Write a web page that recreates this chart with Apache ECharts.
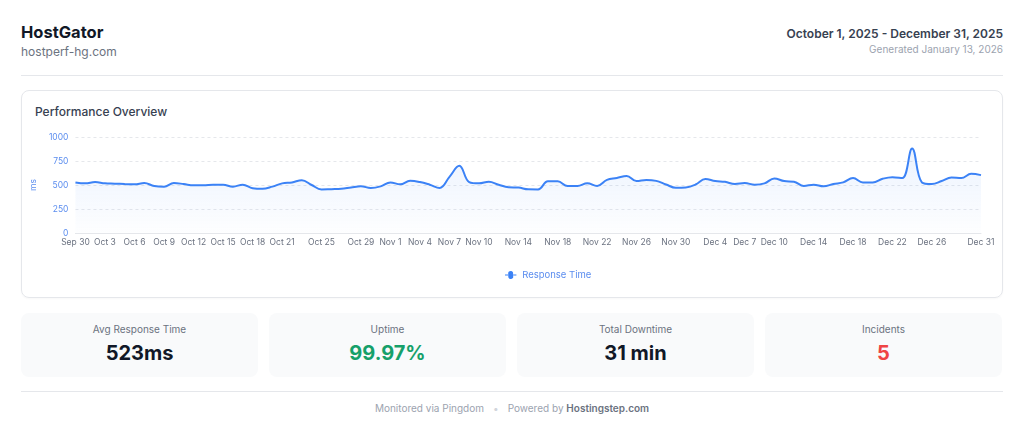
<!DOCTYPE html>
<html>
<head>
<meta charset="utf-8">
<script src="https://cdn.jsdelivr.net/npm/echarts@6/dist/echarts.min.js"></script>
<style>
  html, body { margin:0; padding:0; background:#ffffff; }
  body { width:1024px; height:440px; position:relative; overflow:hidden; font-family: Inter, "Noto Sans", sans-serif; }
  .abs { position:absolute; white-space:nowrap; }
  .title { left:21px; top:22px; font-size:16.5px; line-height:20px; font-weight:700; color:#111827; }
  .sub { left:21px; top:44px; font-size:12px; line-height:16px; color:#6b7280; }
  .range { right:21px; top:26px; font-size:12px; line-height:16px; font-weight:600; color:#374151; text-align:right; }
  .gen { right:21px; top:42px; font-size:10px; line-height:14px; color:#9ca3af; text-align:right; }
  .hr { left:21px; width:982px; height:1px; background:#e5e7eb; }
  .card { left:21px; top:90px; width:980px; height:206px; border:1px solid #e5e7eb; border-radius:8px; box-shadow:0 1px 2px rgba(0,0,0,0.03); }
  .ctitle { left:35px; top:104px; font-size:12px; line-height:16px; font-weight:500; color:#374151; }
  #chart { position:absolute; left:21px; top:125px; width:982px; height:170px; }
  .stat { top:313px; width:237px; height:64px; background:#f9fafb; border-radius:8px; text-align:center; }
  .stat .lab { position:absolute; left:0; right:0; top:9px; font-size:10px; line-height:14px; color:#6b7280; }
  .stat .val { position:absolute; left:0; right:0; top:28px; font-size:20px; line-height:24px; font-weight:700; color:#111827; }
  .foot { left:0; width:1024px; top:401px; font-size:10px; line-height:14px; color:#9ca3af; text-align:center; }
  .foot b { color:#6b7280; font-weight:600; }
  .dot { display:inline-block; margin:0 9px; color:#d1d5db; }
</style>
</head>
<body>
<div class="abs title">HostGator</div>
<div class="abs sub">hostperf-hg.com</div>
<div class="abs range">October 1, 2025 - December 31, 2025</div>
<div class="abs gen">Generated January 13, 2026</div>
<div class="abs hr" style="top:75px"></div>
<div class="abs card"></div>
<div class="abs ctitle">Performance Overview</div>
<div id="chart"></div>
<div class="abs stat" style="left:21px"><div class="lab">Avg Response Time</div><div class="val">523ms</div></div>
<div class="abs stat" style="left:269px"><div class="lab">Uptime</div><div class="val" style="color:#16a06a">99.97%</div></div>
<div class="abs stat" style="left:517px"><div class="lab">Total Downtime</div><div class="val">31 min</div></div>
<div class="abs stat" style="left:765px"><div class="lab">Incidents</div><div class="val" style="color:#ef4444">5</div></div>
<div class="abs hr" style="top:391px"></div>
<div class="abs foot">Monitored via Pingdom<span class="dot">•</span>Powered by <b>Hostingstep.com</b></div>
<script>
const dates = [
  "Sep 30",
  "Oct 1","Oct 2","Oct 3","Oct 4","Oct 5","Oct 6","Oct 7","Oct 8","Oct 9","Oct 10",
  "Oct 11","Oct 12","Oct 13","Oct 14","Oct 15","Oct 16","Oct 17","Oct 18","Oct 19","Oct 20",
  "Oct 21","Oct 22","Oct 23","Oct 24","Oct 25","Oct 26","Oct 27","Oct 28","Oct 29","Oct 30","Oct 31",
  "Nov 1","Nov 2","Nov 3","Nov 4","Nov 5","Nov 6","Nov 7","Nov 8","Nov 9","Nov 10",
  "Nov 11","Nov 12","Nov 13","Nov 14","Nov 15","Nov 16","Nov 17","Nov 18","Nov 19","Nov 20",
  "Nov 21","Nov 22","Nov 23","Nov 24","Nov 25","Nov 26","Nov 27","Nov 28","Nov 29","Nov 30",
  "Dec 1","Dec 2","Dec 3","Dec 4","Dec 5","Dec 6","Dec 7","Dec 8","Dec 9","Dec 10",
  "Dec 11","Dec 12","Dec 13","Dec 14","Dec 15","Dec 16","Dec 17","Dec 18","Dec 19","Dec 20",
  "Dec 21","Dec 22","Dec 23","Dec 24","Dec 25","Dec 26","Dec 27","Dec 28","Dec 29","Dec 30","Dec 31"
];
const responseTime = [
  527,
  517,530,517,514,510,507,520,490,483,520,
  510,497,497,503,503,483,503,466,460,483,
  517,527,550,500,454,457,460,474,486,469,486,
  527,507,544,531,503,469,585,700,531,517,
  534,503,476,473,455,454,538,538,490,490,
  517,490,553,573,595,541,553,543,505,471,
  475,505,562,541,533,510,520,503,517,568,
  541,534,490,503,486,510,527,572,527,527,
  565,582,572,880,527,510,541,579,572,616,603
];
const shownTickLabels = ["Sep 30","Oct 3","Oct 6","Oct 9","Oct 12","Oct 15","Oct 18","Oct 21","Oct 25","Oct 29",
  "Nov 1","Nov 4","Nov 7","Nov 10","Nov 14","Nov 18","Nov 22","Nov 26","Nov 30",
  "Dec 4","Dec 7","Dec 10","Dec 14","Dec 18","Dec 22","Dec 26","Dec 31"];
const yTicks = [0, 250, 500, 750, 1000];

const chart = echarts.init(document.getElementById('chart'), null, {renderer:'canvas'});
chart.setOption({
  animation: false,
  textStyle: { fontFamily: 'Inter, "Noto Sans", sans-serif' },
  grid: { left: 48, right: 22, top: 12, bottom: 62 },
  legend: {
    top: 140, left: 479,
    itemWidth: 13, itemHeight: 8, itemGap: 10,
    textStyle: { color: '#5b8def', fontSize: 9.5 },
    data: [{ name: 'Response Time', icon: 'path://M0,4 L4,4 A2.8,2.8 0 1 1 9,4 L13,4 L13,5 L9,5 A2.8,2.8 0 1 1 4,5 L0,5 Z' }]
  },
  xAxis: {
    type: 'category',
    data: dates,
    boundaryGap: false,
    axisLine: { show: true, lineStyle: { color: '#e5e7eb' } },
    axisTick: { show: false },
    axisLabel: {
      color: '#6b7280', fontSize: 8.5, margin: 5,
      showMinLabel: true, showMaxLabel: true,
      interval: (i, v) => shownTickLabels.includes(v)
    },
    splitLine: { show: false }
  },
  yAxis: {
    type: 'value',
    min: yTicks[0], max: yTicks[yTicks.length - 1], interval: 250,
    name: 'ms', nameLocation: 'middle', nameGap: 18,
    nameTextStyle: { color: '#5b8def', fontSize: 8.5 },
    axisLine: { show: false },
    axisTick: { show: false },
    axisLabel: { color: '#5b8def', fontSize: 8.5, margin: 7, formatter: v => String(v) },
    splitLine: { lineStyle: { color: '#e5e7eb', type: [3, 3] } }
  },
  series: [{
    name: 'Response Time',
    type: 'line',
    data: responseTime,
    smooth: 0.4,
    symbol: 'circle',
    showSymbol: false,
    lineStyle: { color: '#3b82f6', width: 2 },
    itemStyle: { color: '#3b82f6' },
    areaStyle: {
      color: new echarts.graphic.LinearGradient(0, 0, 0, 1, [
        { offset: 0, color: 'rgba(59,130,246,0.14)' },
        { offset: 1, color: 'rgba(59,130,246,0.01)' }
      ])
    }
  }]
});
</script>
</body>
</html>
